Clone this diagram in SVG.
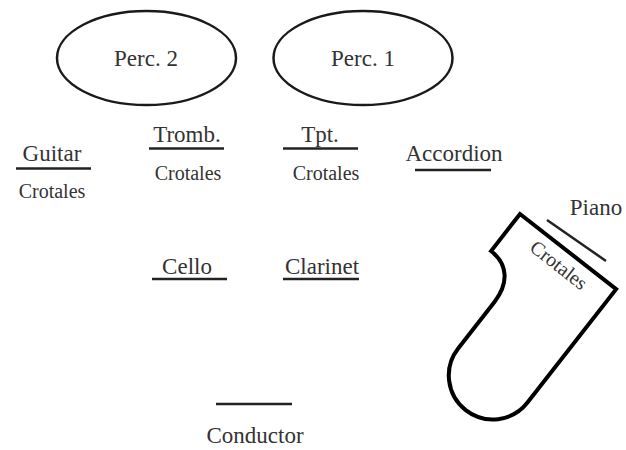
<svg xmlns="http://www.w3.org/2000/svg" width="626" height="450" viewBox="0 0 626 450">
<style>
text{font-family:"Liberation Serif","DejaVu Serif",serif;fill:#333;text-anchor:middle}
.lbl{font-size:23px}
.sub{font-size:20px}
.bar{stroke:#222;stroke-width:2.5;fill:none}
.oval{fill:none;stroke:#1a1a1a;stroke-width:2.5}
.piano{fill:none;stroke:#000;stroke-width:4;stroke-linejoin:miter}
</style>
<rect width="626" height="450" fill="#fff"/>
<g id="perc2"><ellipse class="oval" cx="146.5" cy="58" rx="89.5" ry="47"/><text class="lbl" x="146" y="66">Perc. 2</text></g>
<g id="perc1"><ellipse class="oval" cx="363" cy="58" rx="89.5" ry="47"/><text class="lbl" x="363" y="66">Perc. 1</text></g>
<g id="guitar"><text class="lbl" x="52" y="161">Guitar</text><line class="bar" x1="16" y1="168.5" x2="91" y2="168.5"/><text class="sub" x="52" y="198">Crotales</text></g>
<g id="tromb"><text class="lbl" x="187" y="142">Tromb.</text><line class="bar" x1="149" y1="148.5" x2="224" y2="148.5"/><text class="sub" x="188" y="180">Crotales</text></g>
<g id="tpt"><text class="lbl" x="320" y="142">Tpt.</text><line class="bar" x1="283" y1="148.5" x2="358" y2="148.5"/><text class="sub" x="326" y="180">Crotales</text></g>
<g id="accordion"><text class="lbl" x="454" y="161">Accordion</text><line class="bar" x1="415" y1="170" x2="491" y2="170"/></g>
<g id="cello"><text class="lbl" x="187" y="274">Cello</text><line class="bar" x1="152" y1="279" x2="227" y2="279"/></g>
<g id="clarinet"><text class="lbl" x="322" y="274">Clarinet</text><line class="bar" x1="283" y1="279" x2="359" y2="279"/></g>
<g id="conductor"><line class="bar" x1="216" y1="404" x2="292" y2="404"/><text class="lbl" x="255" y="443">Conductor</text></g>
<g id="piano">
<text class="lbl" x="596" y="215">Piano</text>
<line class="bar" x1="547" y1="220" x2="606" y2="261"/>
<g transform="translate(520,214) rotate(38)">
<path class="piano" d="M0,0 L122,0 L122,144 A44,44 0 0 1 34,144 L34,85 C34,62 22,47 0,47 Z"/>
<text class="sub" x="62" y="23">Crotales</text>
</g>
</g>
</svg>
